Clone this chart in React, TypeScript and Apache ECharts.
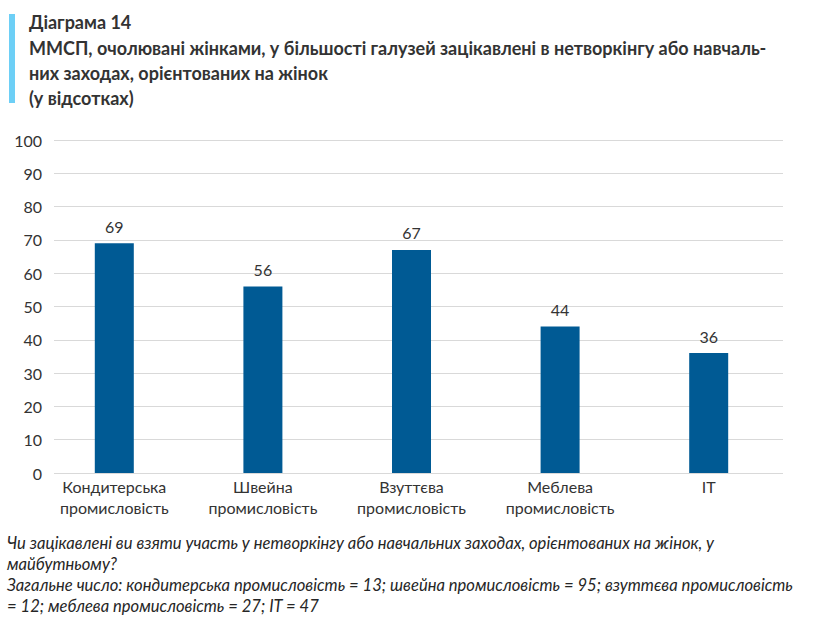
import React, { useEffect, useRef } from "react";
import * as echarts from "echarts";

const categories = [
  "Кондитерська\nпромисловість",
  "Швейна\nпромисловість",
  "Взуттєва\nпромисловість",
  "Меблева\nпромисловість",
  "IT",
];
const values = [69, 56, 67, 44, 36];
const titleLines = [
  "Діаграма 14",
  "ММСП, очолювані жінками, у більшості галузей зацікавлені в нетворкінгу або навчаль-",
  "них заходах, орієнтованих на жінок",
  "(у відсотках)",
];
const noteLines = [
  "Чи зацікавлені ви взяти участь у нетворкінгу або навчальних заходах, орієнтованих на жінок, у",
  "майбутньому?",
  "Загальне число: кондитерська промисловість = 13; швейна промисловість = 95; взуттєва промисловість",
  "= 12; меблева промисловість = 27; IT = 47",
];

const FONT = "Lato, 'Open Sans', sans-serif";
const TEXT = "#333333";

export default function App() {
  const ref = useRef<HTMLDivElement>(null);
  useEffect(() => {
    document.body.style.margin = "0";
    const chart = echarts.init(ref.current!, null, { renderer: "svg" });
    const titleY = [22, 48, 73, 98];
    const noteY = [543, 564, 585, 606];
    const graphic: any[] = [
      { type: "rect", shape: { x: 9, y: 14, width: 6, height: 89 }, style: { fill: "#6dcff6" } },
      ...titleLines.map((t, i) => ({
        type: "text",
        x: 29,
        y: titleY[i],
        style: { text: t, fill: TEXT, font: `bold 18px ${FONT}`, textVerticalAlign: "middle" },
      })),
      ...noteLines.map((t, i) => ({
        type: "text",
        x: 7,
        y: noteY[i],
        style: { text: t, fill: "#262626", font: `italic 16.6px ${FONT}`, textVerticalAlign: "middle" },
      })),
    ];
    chart.setOption({
      animation: false,
      textStyle: { fontFamily: FONT },
      graphic,
      grid: [
        { left: 54, right: 39, top: 140, bottom: 148 },
        { left: 40, right: 39, top: 140, bottom: 148 },
      ],
      xAxis: [
        { gridIndex: 0, type: "category", data: categories, show: false },
        {
          gridIndex: 1,
          type: "category",
          data: categories,
          axisLine: { show: false },
          axisTick: { show: false },
          axisLabel: { color: TEXT, fontSize: 16, lineHeight: 21, margin: 3, interval: 0 },
        },
      ],
      yAxis: [
        {
          gridIndex: 0,
          type: "value",
          min: 0,
          max: 100,
          interval: 10,
          axisLine: { show: false },
          axisTick: { show: false },
          axisLabel: { color: TEXT, fontSize: 16, margin: 12 },
          splitLine: { lineStyle: { color: "#d9d9d9", width: 1 } },
        },
        { gridIndex: 1, type: "value", min: 0, max: 100, show: false },
      ],
      series: [
        {
          type: "bar",
          xAxisIndex: 1,
          yAxisIndex: 1,
          data: values,
          barWidth: 39,
          itemStyle: { color: "#005a94" },
          label: { show: true, position: "top", distance: 9, color: TEXT, fontSize: 16 },
        },
      ],
    });
    return () => chart.dispose();
  }, []);
  return <div ref={ref} style={{ width: 822, height: 621 }} />;
}
